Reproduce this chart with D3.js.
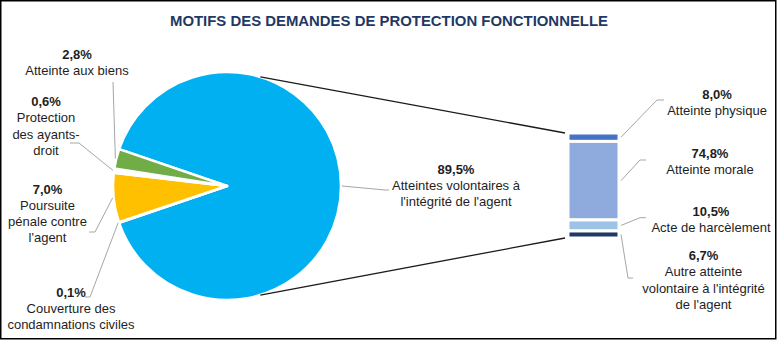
<!DOCTYPE html>
<html>
<head>
<meta charset="utf-8">
<script src="https://cdn.jsdelivr.net/npm/d3@7"></script>
<style>
  html, body { margin: 0; padding: 0; background: #fff; }
  svg { display: block; }
</style>
</head>
<body>
<svg id="chart" width="777" height="340"></svg>
<script>
// ---------- DATA ----------
const chartTitle = "MOTIFS DES DEMANDES DE PROTECTION FONCTIONNELLE";

const pieCategories = [
  "Atteintes volontaires à l'intégrité de l'agent",
  "Couverture des condamnations civiles",
  "Poursuite pénale contre l'agent",
  "Protection des ayants-droit",
  "Atteinte aux biens"
];
const pieValues = [89.5, 0.1, 7.0, 0.6, 2.8];

const barCategories = [
  "Atteinte physique",
  "Atteinte morale",
  "Acte de harcèlement",
  "Autre atteinte volontaire à l'intégrité de l'agent"
];
const barValues = [8.0, 74.8, 10.5, 6.7];

// ---------- STYLE / LAYOUT ----------
const pieColors = ["#00b0f0", "#ffffff", "#ffc000", "#ffffff", "#70ad47"];
const barColors = ["#4472c4", "#8faadc", "#9dc3e6", "#1f3864"];

const W = 777, H = 340;
const cx = 227, cy = 186, R = 114;
const bar = { x: 568, w: 51, top: 133, bottom: 238 };
const fontFamily = "'Liberation Sans', Arial, sans-serif";
const labelSize = 13;
const lineH = 16.3;
const textColor = "#1e1e1e";
const leaderColor = "#a6a6a6";

// label layout (value label centre) and leader elbows, per category index
const pieLabelLayout = [
  { x: 456, y: 169, maxChars: 24, elbow: [385, 190], end: [389, 190] },
  { x: 71,  y: 292, maxChars: 22, elbow: [90, 297],  end: [85, 297] },
  { x: 47.5, y: 189, maxChars: 14, elbow: [95, 232], end: [89, 232] },
  { x: 46,  y: 101.5, maxChars: 12, elbow: [79, 143], end: [70, 143] },
  { x: 77,  y: 54,  maxChars: 24, elbow: [113, 82],  end: [113, 82] }
];
const barLabelLayout = [
  { x: 717, y: 94.5, maxChars: 24, elbow: [657, 100], end: [664, 100] },
  { x: 710, y: 153,  maxChars: 24, elbow: [640, 160], end: [646, 160] },
  { x: 711, y: 211.5, maxChars: 24, elbow: [640, 217.7], end: [646, 217.7] },
  { x: 703.5, y: 255.5, maxChars: 24, elbow: [628, 278], end: [633, 278] }
];

const fmt = v => v.toFixed(1).replace(".", ",") + "%";

function wrap(text, maxChars) {
  const tokens = text.match(/[^ -]+[ -]?/g);
  const lines = [];
  let cur = "";
  tokens.forEach(t => {
    const cand = cur + t;
    if (cur && cand.trimEnd().length > maxChars) {
      lines.push(cur.trimEnd());
      cur = t;
    } else {
      cur = cand;
    }
  });
  if (cur) lines.push(cur.trimEnd());
  return lines;
}

// ---------- DRAW ----------
const svg = d3.select("#chart");

svg.append("rect")
  .attr("x", 0.75).attr("y", 0.75)
  .attr("width", 775).attr("height", 338)
  .attr("fill", "#fff")
  .attr("stroke", "#000")
  .attr("stroke-width", 1.5);

svg.append("text")
  .attr("x", 389).attr("y", 21)
  .attr("dy", "0.35em")
  .attr("text-anchor", "middle")
  .attr("font-family", fontFamily)
  .attr("font-weight", "bold")
  .attr("font-size", 14.8)
  .attr("textLength", 438)
  .attr("lengthAdjust", "spacingAndGlyphs")
  .attr("fill", "#1f3864")
  .text(chartTitle);

// Pie: main slice centred on the right-hand side
const total = d3.sum(pieValues);
const start = Math.PI / 2 - (pieValues[0] / total) * Math.PI;
const pie = d3.pie().sort(null).startAngle(start).endAngle(start + 2 * Math.PI);
const arcs = pie(pieValues);
const arc = d3.arc().innerRadius(0).outerRadius(R);

const gPie = svg.append("g").attr("transform", `translate(${cx},${cy})`);
gPie.selectAll("path")
  .data(arcs)
  .join("path")
  .attr("d", arc)
  .attr("fill", (d, i) => pieColors[i])
  .attr("stroke", "#fff")
  .attr("stroke-width", 2.5)
  .attr("stroke-linejoin", "round");

// Bar (stacked column) of the main slice breakdown
const barScale = d3.scaleLinear()
  .domain([0, d3.sum(barValues)])
  .range([bar.top, bar.bottom]);
const stacked = [];
let acc = 0;
barValues.forEach((v, i) => { stacked.push({ i, y0: acc, y1: acc + v }); acc += v; });

svg.append("g").selectAll("rect")
  .data(stacked)
  .join("rect")
  .attr("x", bar.x)
  .attr("y", d => barScale(d.y0))
  .attr("width", bar.w)
  .attr("height", d => barScale(d.y1) - barScale(d.y0))
  .attr("fill", d => barColors[d.i])
  .attr("stroke", "#fff")
  .attr("stroke-width", 3);

// Connector lines pie -> bar
const connAngles = [17 * Math.PI / 180, 163 * Math.PI / 180];
const connTargets = [barScale(0), barScale(d3.sum(barValues))];
connAngles.forEach((a, k) => {
  svg.append("line")
    .attr("x1", cx + R * Math.sin(a))
    .attr("y1", cy - R * Math.cos(a))
    .attr("x2", bar.x - 3)
    .attr("y2", connTargets[k])
    .attr("stroke", "#1a1a1a")
    .attr("stroke-width", 1.3);
});

// Labels helper
function drawLabel(g, lay, value, name) {
  const t = g.append("text")
    .attr("text-anchor", "middle")
    .attr("font-family", fontFamily)
    .attr("font-size", labelSize)
    .attr("fill", textColor);
  t.append("tspan")
    .attr("x", lay.x).attr("y", lay.y).attr("dy", "0.35em")
    .attr("font-weight", "bold")
    .text(fmt(value));
  wrap(name, lay.maxChars).forEach((ln, k) => {
    t.append("tspan")
      .attr("x", lay.x).attr("y", lay.y + (k + 1) * lineH).attr("dy", "0.35em")
      .text(ln);
  });
}
function drawLeader(g, p0, lay) {
  g.append("polyline")
    .attr("points", [p0, lay.elbow, lay.end].map(p => p.join(",")).join(" "))
    .attr("fill", "none")
    .attr("stroke", leaderColor)
    .attr("stroke-width", 1);
}

const gLab = svg.append("g");
arcs.forEach((a, i) => {
  const mid = (a.startAngle + a.endAngle) / 2;
  const p0 = [cx + (R + 1) * Math.sin(mid), cy - (R + 1) * Math.cos(mid)];
  drawLeader(gLab, p0, pieLabelLayout[i]);
  drawLabel(gLab, pieLabelLayout[i], pieValues[i], pieCategories[i]);
});
stacked.forEach((d, i) => {
  const p0 = [bar.x + bar.w + 2, (barScale(d.y0) + barScale(d.y1)) / 2];
  drawLeader(gLab, p0, barLabelLayout[i]);
  drawLabel(gLab, barLabelLayout[i], barValues[i], barCategories[i]);
});
</script>
</body>
</html>
